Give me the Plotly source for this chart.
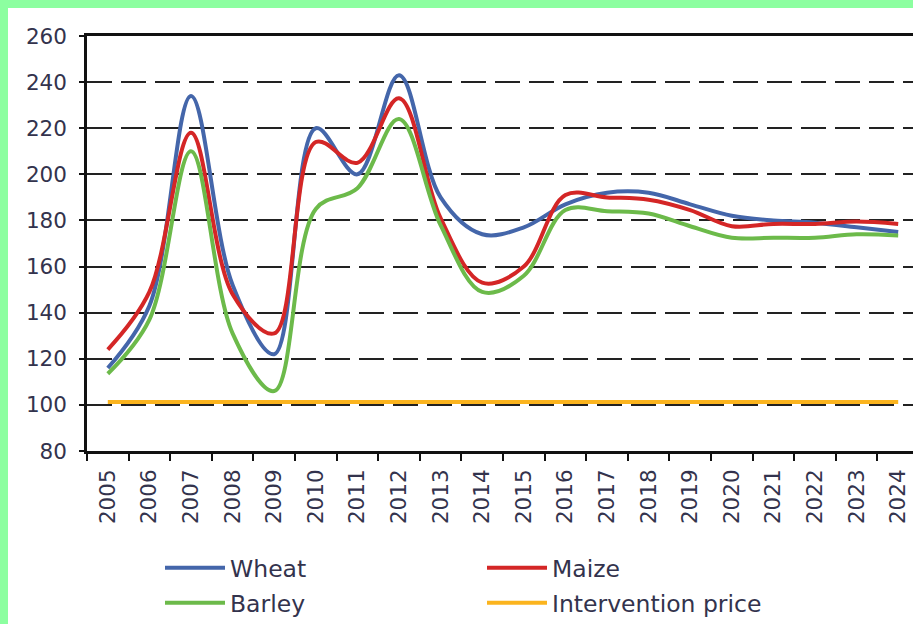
import plotly.graph_objects as go

years = [str(y) for y in range(2005, 2025)]
wheat = [116, 143, 234, 152, 122, 220, 200, 243, 190, 174, 177, 187, 192, 192, 187, 182, 180, 179, 177, 175]
maize = [124, 149, 218, 148, 131, 214, 205, 233, 181, 153, 160, 191, 190, 189, 184.5, 177.5, 178.5, 178.5, 179.5, 178.5]
barley = [113.5, 137, 210, 131, 106, 185, 194, 224, 178, 149, 156, 184.5, 184, 183, 177.5, 172.5, 172.5, 172.5, 174, 173.5]
intervention = [101.2] * len(years)

# Figure sits 8px in from the top-left of the page (green page background shows there)
OFF = 8
W, H = 913 - OFF, 624 - OFF
L, R, T = 87 - OFF, 0, 36 - OFF
B = H - (451 - OFF)
pw, ph = W - L - R, H - T - B

def px(x):
    return (x - OFF - L) / pw

def py(y):
    return (H - B - (y - OFF)) / ph

# name, values, colour, legend id, sample start (screen px), row centre (screen px)
series = [
    ("Wheat", wheat, "#4466AA", "legend", 165, 568),
    ("Maize", maize, "#D42626", "legend2", 487, 568),
    ("Barley", barley, "#6CBA4A", "legend3", 165, 603),
    ("Intervention price", intervention, "#FBB41E", "legend4", 487, 603),
]

fig = go.Figure()
legends = {}
legfont = dict(family="DejaVu Sans", size=23.5, color="#33334d")
for name, vals, col, lg, lx, ly in series:
    fig.add_trace(go.Scatter(
        x=years, y=vals, name=name, mode="lines", legend=lg,
        line=dict(color=col, width=4, shape="spline", smoothing=1.0),
    ))
    legends[lg] = dict(
        x=px(lx - 5), y=py(ly), xanchor="left", yanchor="middle",
        orientation="v", itemwidth=60, font=legfont,
        bgcolor="rgba(0,0,0,0)", borderwidth=0,
    )

tickfont = dict(family="DejaVu Sans", size=21.5, color="#33334d")

fig.update_layout(
    width=W, height=H,
    margin=dict(l=L, r=R, t=T, b=B, pad=0, autoexpand=False),
    paper_bgcolor="white", plot_bgcolor="white",
    showlegend=True,
    xaxis=dict(
        type="category", range=[-0.5, 19.5 - 6 / 41.6], automargin=False,
        tickson="boundaries", ticks="outside", ticklen=7, tickwidth=2, tickcolor="#111",
        showline=True, linecolor="#111", linewidth=2.5, mirror=True,
        showgrid=False, tickangle=-90, tickfont=tickfont, ticklabelstandoff=7,
    ),
    yaxis=dict(
        range=[80, 260], dtick=20, tick0=80, automargin=False,
        ticks="outside", ticklen=5, tickwidth=2, tickcolor="#111",
        showline=True, linecolor="#111", linewidth=2.5,
        showgrid=True, gridcolor="#222", gridwidth=2, griddash="25px,9px",
        zeroline=False, tickfont=tickfont, ticklabelstandoff=8,
    ),
    **legends,
)

fig.write_html(
    "out.html",
    post_script="document.body.style.margin='8px 0 0 8px';"
                "document.body.style.background='rgb(140,255,160)';",
)
